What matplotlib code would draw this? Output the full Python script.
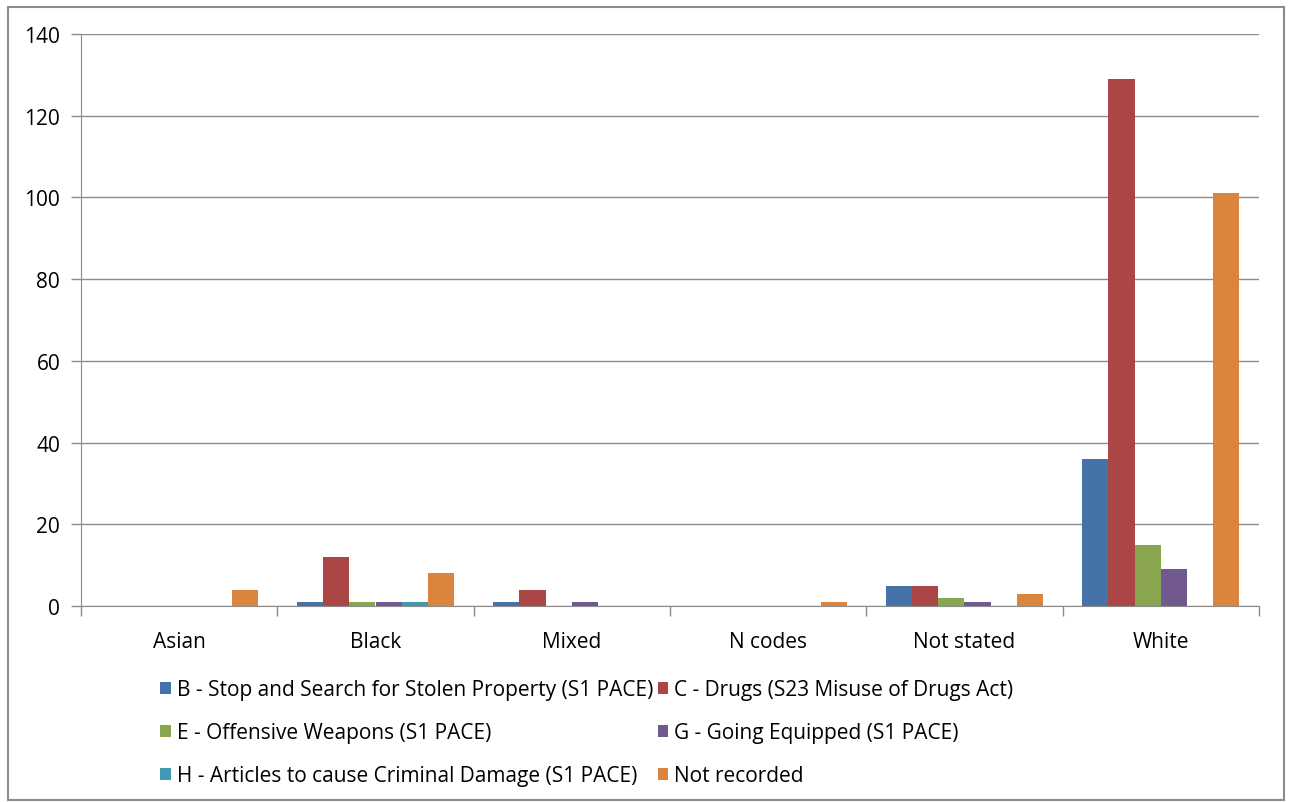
import matplotlib
matplotlib.use("Agg")
import matplotlib.pyplot as plt
import numpy as np
from matplotlib.patches import Rectangle

categories = ["Asian", "Black", "Mixed", "N codes", "Not stated", "White"]
series_names = [
    "B - Stop and Search for Stolen Property (S1 PACE)",
    "C - Drugs (S23 Misuse of Drugs Act)",
    "E - Offensive Weapons (S1 PACE)",
    "G - Going Equipped (S1 PACE)",
    "H - Articles to cause Criminal Damage (S1 PACE)",
    "Not recorded",
]
b_stolen = [0, 1, 1, 0, 5, 36]
c_drugs = [0, 12, 4, 0, 5, 129]
e_weapons = [0, 1, 0, 0, 2, 15]
g_equipped = [0, 1, 1, 0, 1, 9]
h_damage = [0, 1, 0, 0, 0, 0]
not_recorded = [4, 8, 0, 1, 3, 101]
colors = ["#4572A7", "#AA4643", "#89A54E", "#71588F", "#4198AF", "#DB843D"]

plt.rcParams['font.family'] = ['Open Sans', 'DejaVu Sans']

fig = plt.figure(figsize=(12.9, 8.03), dpi=100)
ax = fig.add_axes([81 / 1290, 1 - 607 / 803, (1259 - 81) / 1290, (607 - 35) / 803])

values = [b_stolen, c_drugs, e_weapons, g_equipped, h_damage, not_recorded]
x = np.arange(len(categories))
w = 0.8 / len(values)
handles = []
for i, (name, vals) in enumerate(zip(series_names, values)):
    bars = ax.bar(x - 0.4 + w * (i + 0.5), vals, width=w, color=colors[i],
                  label=name, zorder=3)
    handles.append(bars)

ax.set_xlim(-0.5, len(categories) - 0.5)
ax.set_ylim(0, 140)
ax.set_yticks(range(0, 141, 20))
ax.yaxis.grid(True, color="#8c8c8c", linewidth=1, zorder=0)
ax.set_xticks(x)
ax.set_xticklabels(categories, fontsize=15)
ax.set_xticks(np.arange(-0.5, len(categories)), minor=True)
ax.tick_params(axis="x", which="major", length=0, pad=18)
ax.tick_params(axis="x", which="minor", length=7, color="#8c8c8c", width=1)
ax.tick_params(axis="y", length=7, color="#8c8c8c", width=1, labelsize=15, pad=8)
for side in ["top", "right"]:
    ax.spines[side].set_visible(False)
for side in ["left", "bottom"]:
    ax.spines[side].set_color("#8c8c8c")

order = [0, 2, 4, 1, 3, 5]
leg = fig.legend([handles[i] for i in order], [series_names[i] for i in order],
                 loc="upper left", bbox_to_anchor=(152 / 1290, 1 - 672 / 803),
                 ncol=2, frameon=False, fontsize=15, handlelength=0.5,
                 handleheight=0.5, handletextpad=0.3, columnspacing=0.2,
                 labelspacing=1.05, borderaxespad=0)

fig.patches.append(Rectangle((8 / 1290, 2 / 803), 1276 / 1290, 793 / 803,
                             transform=fig.transFigure, fill=False,
                             edgecolor="#8c8c8c", linewidth=1.5))

fig.savefig("out.png", dpi=100)
